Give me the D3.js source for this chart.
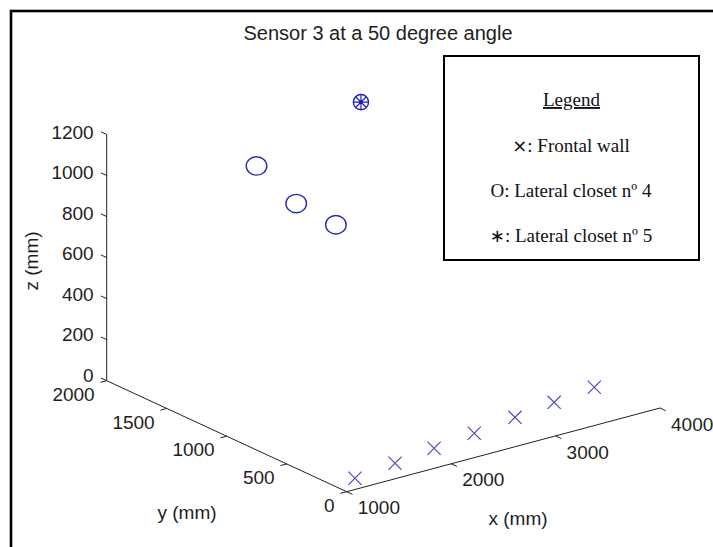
<!DOCTYPE html>
<html>
<head>
<meta charset="utf-8">
<script src="https://cdn.jsdelivr.net/npm/d3@7"></script>
<style>
  html, body { margin: 0; padding: 0; background: #fff; }
  svg { display: block; }
</style>
</head>
<body>
<div id="chart"></div>
<script>
// ---------- data ----------
const titleText = "Sensor 3 at a 50 degree angle";
const xTicks = [1000, 2000, 3000, 4000];
const yTicks = [0, 500, 1000, 1500, 2000];
const zTicks = [0, 200, 400, 600, 800, 1000, 1200];

// Frontal wall (x markers)
const wallX = [1226, 1666, 2100, 2541, 2998, 3432, 3873];
const wallY = [128, 177, 229, 278, 336, 388, 437];
const wallZ = [0, 0, 0, 0, 0, 0, 0];

// Lateral closet no 4 (o markers)
const closet4X = [1860, 2240, 2620];
const closet4Y = [1500, 1500, 1500];
const closet4Z = [1065, 830, 675];

// Lateral closet no 5 (* markers)
const closet5X = [2860];
const closet5Y = [1500];
const closet5Z = [1240];

const legendTitle = "Legend";
const legendSymbols = ["\u00D7", "O", "\u2217"];
const legendLabels = [": Frontal wall", ": Lateral closet n\u00BA 4", ": Lateral closet n\u00BA 5"];

// ---------- layout ----------
const W = 713, H = 547;
const origin = [346.7, 491.7];          // screen point of (x=1000, y=0, z=0)
const xVec = [313.3, -83.7];            // screen displacement across the x range
const yVec = [-240, -111];              // screen displacement across the y range
const zLen = 246.2;                     // screen height of the z range

const xs = d3.scaleLinear().domain([1000, 4000]).range([0, 1]);
const ys = d3.scaleLinear().domain([0, 2000]).range([0, 1]);
const zs = d3.scaleLinear().domain([0, 1200]).range([0, zLen]);

function proj(x, y, z) {
  const fx = xs(x), fy = ys(y);
  return [origin[0] + fx * xVec[0] + fy * yVec[0],
          origin[1] + fx * xVec[1] + fy * yVec[1] - zs(z)];
}

const svg = d3.select("#chart").append("svg")
  .attr("width", W).attr("height", H);

svg.append("rect").attr("width", W).attr("height", H).attr("fill", "#fff");

// outer frame
svg.append("rect").attr("x", 11).attr("y", 11).attr("width", 720).attr("height", 560)
  .attr("fill", "none").attr("stroke", "#000").attr("stroke-width", 2.6);

const axColor = "#222";
const txtColor = "#1e1e1e";
const line = d3.line();

// axes lines
const gAx = svg.append("g").attr("stroke", axColor).attr("stroke-width", 1).attr("fill", "none");
gAx.append("path").attr("d", line([proj(1000, 0, 0), proj(4000, 0, 0)]));
gAx.append("path").attr("d", line([proj(1000, 0, 0), proj(1000, 2000, 0)]));
gAx.append("path").attr("d", line([proj(1000, 2000, 0), proj(1000, 2000, 1200)]));

// ticks
xTicks.forEach(t => gAx.append("path").attr("d", line([proj(t, 0, 0), proj(t, -48, 0)])));
yTicks.forEach(t => gAx.append("path").attr("d", line([proj(1000, t, 0), proj(940, t, 0)])));
zTicks.forEach(t => gAx.append("path").attr("d", line([proj(1000, 2000, t), proj(1000, 2048, t)])));

const font = "'Liberation Sans', Arial, sans-serif";
const gT = svg.append("g").attr("font-family", font).attr("font-size", 19).attr("fill", txtColor);

xTicks.forEach(t => {
  const p = proj(t, 0, 0);
  gT.append("text").attr("x", p[0] + 11).attr("y", p[1] + 16).attr("dy", "0.35em")
    .attr("text-anchor", "start").text(t);
});
yTicks.forEach(t => {
  const p = proj(1000, t, 0);
  gT.append("text").attr("x", p[0] - 12).attr("y", p[1] + 13.5).attr("dy", "0.35em")
    .attr("text-anchor", "end").text(t);
});
zTicks.forEach(t => {
  const p = proj(1000, 2000, t);
  const off = -2.3 - 3.4 * (1 - t / 1200);
  gT.append("text").attr("x", p[0] - 13).attr("y", p[1] + off).attr("dy", "0.35em")
    .attr("text-anchor", "end").text(t);
});

// axis labels
gT.append("text").attr("x", 518).attr("y", 518).attr("dy", "0.35em").attr("text-anchor", "middle").text("x (mm)");
gT.append("text").attr("x", 187).attr("y", 512).attr("dy", "0.35em").attr("text-anchor", "middle").text("y (mm)");
gT.append("text").attr("transform", "translate(31,261) rotate(-90)").attr("dy", "0.35em")
  .attr("text-anchor", "middle").text("z (mm)");

// title
gT.append("text").attr("x", 378).attr("y", 33).attr("dy", "0.35em").attr("text-anchor", "middle")
  .attr("font-size", 20).text(titleText);

// ---------- markers ----------
const gM = svg.append("g").attr("fill", "none");

const wall = wallX.map((x, i) => proj(x, wallY[i], wallZ[i]));
const c4 = closet4X.map((x, i) => proj(x, closet4Y[i], closet4Z[i]));
const c5 = closet5X.map((x, i) => proj(x, closet5Y[i], closet5Z[i]));

const s = 6.6;
gM.selectAll("path.cross").data(wall).enter().append("path")
  .attr("class", "cross")
  .attr("d", p => `M${p[0]-s},${p[1]-s}L${p[0]+s},${p[1]+s}M${p[0]-s},${p[1]+s}L${p[0]+s},${p[1]-s}`)
  .attr("stroke", "#4a4ac8").attr("stroke-width", 1.2);

gM.selectAll("ellipse.c4").data(c4).enter().append("ellipse")
  .attr("class", "c4")
  .attr("cx", p => p[0]).attr("cy", p => p[1]).attr("rx", 10.3).attr("ry", 9.2)
  .attr("stroke", "#2a2ab8").attr("stroke-width", 1.4);

const r5 = 7.6;
c5.forEach(p => {
  gM.append("circle").attr("cx", p[0]).attr("cy", p[1]).attr("r", r5)
    .attr("stroke", "#2222c8").attr("stroke-width", 1.4);
  let d = "";
  for (let k = 0; k < 4; k++) {
    const a = k * Math.PI / 4;
    d += `M${p[0] - r5 * Math.cos(a)},${p[1] - r5 * Math.sin(a)}L${p[0] + r5 * Math.cos(a)},${p[1] + r5 * Math.sin(a)}`;
  }
  gM.append("path").attr("d", d).attr("stroke", "#2222c8").attr("stroke-width", 1.2);
  gM.append("circle").attr("cx", p[0]).attr("cy", p[1]).attr("r", 1.8).attr("fill", "#1818c0");
});

// ---------- legend ----------
const gL = svg.append("g");
gL.append("rect").attr("x", 444).attr("y", 56).attr("width", 255).attr("height", 204)
  .attr("fill", "#fff").attr("stroke", "#000").attr("stroke-width", 2);
const serif = "'Liberation Serif', 'Times New Roman', serif";
gL.append("text").attr("x", 571.5).attr("y", 106).attr("text-anchor", "middle")
  .attr("font-family", serif).attr("font-size", 19).attr("fill", "#111")
  .attr("text-decoration", "underline").text(legendTitle);
const baselines = [152, 197, 242];
legendLabels.forEach((t, i) => {
  const tx = gL.append("text").attr("x", 571).attr("y", baselines[i]).attr("text-anchor", "middle")
    .attr("font-family", serif).attr("font-size", 19).attr("fill", "#111");
  const sym = legendSymbols[i];
  const symSpan = tx.append("tspan").text(sym);
  if (sym !== "O") symSpan.attr("font-family", "'DejaVu Sans', sans-serif").attr("font-size", 18);
  tx.append("tspan").text(t);
});
</script>
</body>
</html>
